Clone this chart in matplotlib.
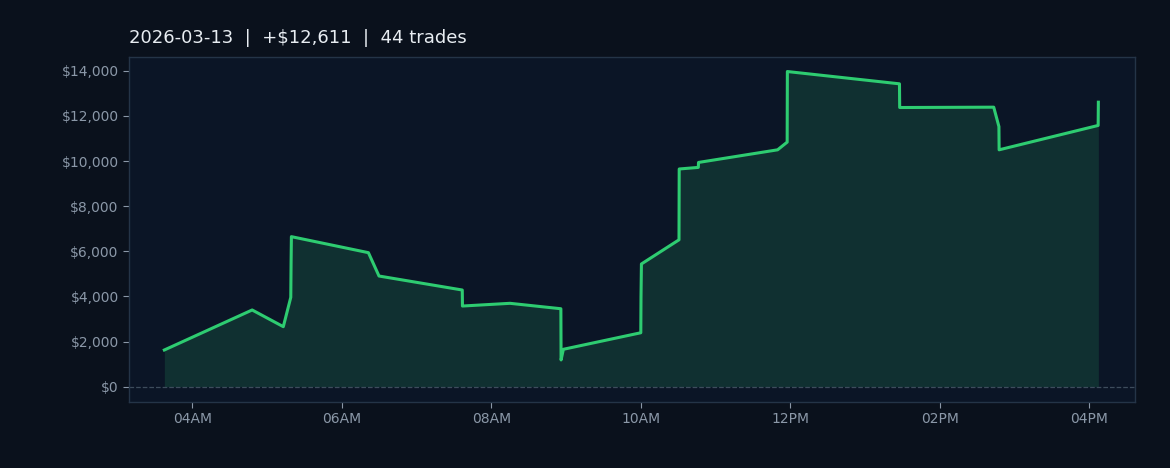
import pandas as pd
import matplotlib
matplotlib.use('Agg')
import matplotlib.pyplot as plt
import matplotlib.dates as mdates
from matplotlib.ticker import FuncFormatter

# cumulative P&L after each trade
trade_times = ['03:37:30', '04:48:00', '05:13:00', '05:19:00', '05:19:15', '05:19:30',
               '06:21:20', '06:29:50', '07:36:40', '07:36:50', '08:15:00', '08:55:50',
               '08:56:00', '08:57:50', '10:00:00', '10:00:10', '10:00:30', '10:30:40',
               '10:30:50', '10:46:10', '10:46:20', '11:49:50', '11:57:30', '11:57:40',
               '13:27:40', '13:27:50', '14:43:20', '14:47:30', '14:47:40', '16:07:10',
               '16:07:20']
cum_pnl = [1626, 3400, 2660, 3960, 5500, 6650,
           5940, 4905, 4285, 3575, 3695, 3455,
           1185, 1657, 2390, 3980, 5440, 6510,
           9650, 9720, 9940, 10500, 10840, 13970,
           13425, 12375, 12390, 11530, 10500, 11580,
           12611]
day = '2026-03-13'
n_trades = 44

fig_bg = '#0a111c'
ax_bg = '#0b1526'
green = '#2ecc71'

x = pd.to_datetime([day + ' ' + t for t in trade_times])

fig = plt.figure(figsize=(11.7, 4.68), dpi=100, facecolor=fig_bg)
ax = fig.add_axes([0.1103, 0.141, 0.8597, 0.737])
ax.set_facecolor(ax_bg)

ax.fill_between(x, 0, cum_pnl, color=green, alpha=0.15, linewidth=0)
ax.plot(x, cum_pnl, color=green, linewidth=2.2)
ax.axhline(0, color='#3d4c5c', linestyle='--', linewidth=0.9)

ax.set_xlim(pd.Timestamp(day + ' 03:09:10'), pd.Timestamp(day + ' 16:36:40'))
ax.set_ylim(-680, 14610)
ax.set_yticks(range(0, 14001, 2000))
ax.yaxis.set_major_formatter(FuncFormatter(lambda v, p: '${:,.0f}'.format(v)))
ax.xaxis.set_major_locator(mdates.HourLocator(byhour=range(4, 17, 2)))
ax.xaxis.set_major_formatter(mdates.DateFormatter('%I%p'))

ax.tick_params(colors='#8b98a8', labelsize=10, length=4, width=0.8)
for s in ax.spines.values():
    s.set_color('#243447')
    s.set_linewidth(1)

total = cum_pnl[-1]
ax.set_title('{}  |  +${:,}  |  {} trades'.format(day, total, n_trades),
             loc='left', color='#e8edf2', fontsize=13, pad=10)

fig.savefig('out.png', facecolor=fig_bg)
